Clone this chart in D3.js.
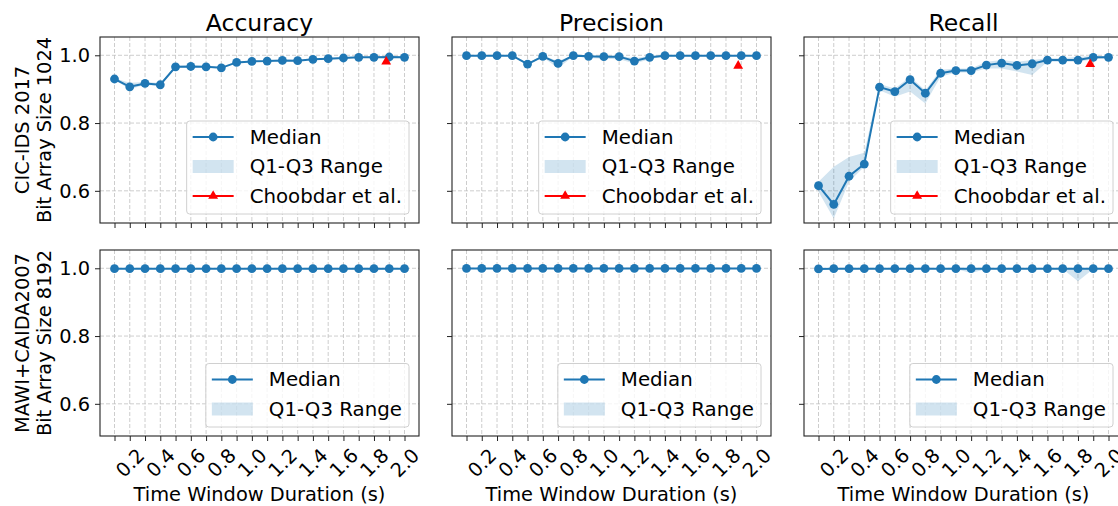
<!DOCTYPE html>
<html>
<head>
<meta charset="utf-8">
<script src="https://cdn.jsdelivr.net/npm/d3@7"></script>
<style>
  body { margin: 0; background: white; }
  svg { display: block; font-family: "DejaVu Sans", sans-serif; }
</style>
</head>
<body>
<div id="chart"></div>
<script>
// Data
const durations = [0.1, 0.2, 0.3, 0.4, 0.5, 0.6, 0.7, 0.8, 0.9, 1.0, 1.1, 1.2, 1.3, 1.4, 1.5, 1.6, 1.7, 1.8, 1.9, 2.0];
const metricTitles = ['Accuracy', 'Precision', 'Recall'];
const rowLabels = [['CIC-IDS 2017', 'Bit Array Size 1024'], ['MAWI+CAIDA2007', 'Bit Array Size 8192']];
const yTickValues = [0.6, 0.8, 1.0];

// CIC-IDS 2017, bit array 1024
const cicAccMedian = [0.930, 0.907, 0.917, 0.913, 0.966, 0.967, 0.966, 0.963, 0.979, 0.982, 0.983, 0.985, 0.984, 0.988, 0.990, 0.992, 0.994, 0.994, 0.995, 0.994];
const cicAccQ1 = [0.928, 0.900, 0.913, 0.909, 0.963, 0.964, 0.964, 0.960, 0.977, 0.980, 0.981, 0.983, 0.982, 0.987, 0.989, 0.991, 0.993, 0.993, 0.994, 0.993];
const cicAccQ3 = [0.932, 0.919, 0.921, 0.918, 0.968, 0.969, 0.968, 0.966, 0.981, 0.984, 0.985, 0.987, 0.986, 0.990, 0.992, 0.994, 0.996, 0.996, 0.996, 0.995];

const cicPrecMedian = [0.999, 0.999, 0.999, 0.999, 0.974, 0.997, 0.976, 0.999, 0.997, 0.996, 0.996, 0.983, 0.994, 0.999, 0.999, 0.999, 0.999, 0.999, 0.999, 0.999];
const cicPrecQ1 = [0.998, 0.998, 0.998, 0.998, 0.971, 0.994, 0.962, 0.997, 0.992, 0.990, 0.988, 0.976, 0.988, 0.997, 0.998, 0.998, 0.998, 0.998, 0.998, 0.998];
const cicPrecQ3 = [1.000, 1.000, 1.000, 1.000, 0.978, 0.999, 0.983, 1.000, 0.999, 0.999, 0.999, 0.991, 0.998, 1.000, 1.000, 1.000, 1.000, 1.000, 1.000, 1.000];

const cicRecMedian = [0.615, 0.560, 0.643, 0.679, 0.906, 0.893, 0.928, 0.888, 0.947, 0.955, 0.955, 0.971, 0.977, 0.970, 0.975, 0.986, 0.986, 0.986, 0.994, 0.994];
const cicRecQ1 = [0.597, 0.518, 0.627, 0.671, 0.897, 0.878, 0.893, 0.858, 0.937, 0.949, 0.949, 0.961, 0.961, 0.952, 0.942, 0.981, 0.981, 0.981, 0.988, 0.991];
const cicRecQ3 = [0.627, 0.671, 0.700, 0.712, 0.915, 0.902, 0.937, 0.897, 0.957, 0.961, 0.961, 0.981, 0.986, 0.981, 0.986, 0.991, 0.991, 0.996, 0.998, 0.998];

// MAWI+CAIDA2007, bit array 8192
const mawiAccMedian = [0.999, 0.999, 0.999, 0.999, 0.999, 0.999, 0.999, 0.999, 0.999, 0.999, 0.999, 0.999, 0.999, 0.999, 0.999, 0.999, 0.999, 0.999, 0.999, 0.999];
const mawiAccQ1 = [0.999, 0.999, 0.999, 0.999, 0.999, 0.999, 0.999, 0.999, 0.999, 0.999, 0.999, 0.999, 0.999, 0.999, 0.999, 0.998, 0.996, 0.993, 0.998, 0.998];
const mawiAccQ3 = [1.000, 1.000, 1.000, 1.000, 1.000, 1.000, 1.000, 1.000, 1.000, 1.000, 1.000, 1.000, 1.000, 1.000, 1.000, 1.000, 1.000, 1.000, 1.000, 1.000];

const mawiPrecMedian = [0.9995, 0.9995, 0.9995, 0.9995, 0.9995, 0.9995, 0.9995, 0.9995, 0.9995, 0.9995, 0.9995, 0.9995, 0.9995, 0.9995, 0.9995, 0.9995, 0.9995, 0.9995, 0.9995, 0.9995];
const mawiPrecQ1 = [0.999, 0.999, 0.999, 0.999, 0.999, 0.999, 0.999, 0.999, 0.999, 0.999, 0.999, 0.999, 0.999, 0.999, 0.999, 0.999, 0.999, 0.999, 0.999, 0.999];
const mawiPrecQ3 = [1.000, 1.000, 1.000, 1.000, 1.000, 1.000, 1.000, 1.000, 1.000, 1.000, 1.000, 1.000, 1.000, 1.000, 1.000, 1.000, 1.000, 1.000, 1.000, 1.000];

const mawiRecMedian = [0.998, 0.999, 0.999, 0.999, 0.999, 0.999, 0.999, 0.999, 0.999, 0.999, 0.999, 0.999, 0.999, 0.999, 0.999, 0.999, 0.999, 0.999, 0.999, 0.999];
const mawiRecQ1 = [0.997, 0.999, 0.999, 0.999, 0.999, 0.999, 0.999, 0.999, 0.999, 0.998, 0.986, 0.998, 0.999, 0.999, 0.999, 0.999, 0.998, 0.962, 0.998, 0.999];
const mawiRecQ3 = [1.000, 1.000, 1.000, 1.000, 1.000, 1.000, 1.000, 1.000, 1.000, 1.000, 1.000, 1.000, 1.000, 1.000, 1.000, 1.000, 1.000, 1.000, 1.000, 1.000];

// Choobdar et al. reference points (top row only)
const choobdarX = 1.88;
const choobdarValues = [0.981, 0.969, 0.974];

// Canvas & layout
const width = 1118,
      height = 506;
const panelW = 319,
      panelH = 186;
const colLeft = [100, 452, 804];
const rowTop = [37, 250];
const blue = '#1f77b4';

const svg = d3.select('#chart').append('svg')
    .attr('width', width)
    .attr('height', height);

const xScale = d3.scaleLinear().domain([0.005, 2.095]).range([0, panelW]);
const yScale = d3.scaleLinear().domain([0.505, 1.054]).range([panelH, 0]);

const panels = [
    [[cicAccMedian, cicAccQ1, cicAccQ3], [cicPrecMedian, cicPrecQ1, cicPrecQ3], [cicRecMedian, cicRecQ1, cicRecQ3]],
    [[mawiAccMedian, mawiAccQ1, mawiAccQ3], [mawiPrecMedian, mawiPrecQ1, mawiPrecQ3], [mawiRecMedian, mawiRecQ1, mawiRecQ3]]
];

const triangle = d3.symbol().type(d3.symbolTriangle).size(42);

function drawPanel(row, col) {
    const [median, q1, q3] = panels[row][col];
    const g = svg.append('g')
        .attr('transform', `translate(${colLeft[col]},${rowTop[row]})`);

    // grid
    g.append('g').selectAll('line').data(durations).enter().append('line')
        .attr('x1', d => xScale(d)).attr('x2', d => xScale(d))
        .attr('y1', 0).attr('y2', panelH)
        .attr('stroke', '#c0c0c0').attr('stroke-width', 0.8).attr('stroke-dasharray', '4,2');
    g.append('g').selectAll('line').data(yTickValues).enter().append('line')
        .attr('x1', 0).attr('x2', panelW)
        .attr('y1', d => yScale(d)).attr('y2', d => yScale(d))
        .attr('stroke', '#c0c0c0').attr('stroke-width', 0.8).attr('stroke-dasharray', '4,2');

    // Q1-Q3 band
    const area = d3.area()
        .x((d, i) => xScale(durations[i]))
        .y0((d, i) => yScale(q1[i]))
        .y1((d, i) => yScale(q3[i]));
    g.append('path').datum(median)
        .attr('d', area)
        .attr('fill', blue).attr('fill-opacity', 0.2);

    // median line + markers
    const line = d3.line()
        .x((d, i) => xScale(durations[i]))
        .y(d => yScale(d));
    g.append('path').datum(median)
        .attr('d', line)
        .attr('fill', 'none').attr('stroke', blue).attr('stroke-width', 2);
    g.append('g').selectAll('circle').data(median).enter().append('circle')
        .attr('cx', (d, i) => xScale(durations[i]))
        .attr('cy', d => yScale(d))
        .attr('r', 4.4)
        .attr('fill', blue);

    if (row === 0) {
        g.append('path')
            .attr('d', triangle)
            .attr('transform', `translate(${xScale(choobdarX)},${yScale(choobdarValues[col])})`)
            .attr('fill', 'red');
    }

    // axes
    const xAxis = d3.axisBottom(xScale)
        .tickValues(durations)
        .tickSize(5)
        .tickFormat((d, i) => (row === 1 && i % 2 === 1) ? d.toFixed(1) : '');
    const xg = g.append('g')
        .attr('transform', `translate(0,${panelH})`)
        .call(xAxis);
    xg.select('.domain').remove();
    xg.selectAll('line').attr('stroke', '#222').attr('stroke-width', 1);
    xg.selectAll('text')
        .attr('font-size', '19.4px')
        .attr('font-family', 'DejaVu Sans')
        .attr('fill', 'black')
        .attr('text-anchor', 'middle')
        .attr('dy', null)
        .attr('y', null)
        .attr('dominant-baseline', 'central')
        .attr('transform', 'translate(0,27) rotate(-45)');

    const yAxis = d3.axisLeft(yScale)
        .tickValues(yTickValues)
        .tickSize(5)
        .tickPadding(5)
        .tickFormat(d => col === 0 ? d.toFixed(1) : '');
    const yg = g.append('g').call(yAxis);
    yg.select('.domain').remove();
    yg.selectAll('line').attr('stroke', '#222').attr('stroke-width', 1);
    yg.selectAll('text')
        .attr('font-size', '19.4px')
        .attr('font-family', 'DejaVu Sans')
        .attr('fill', 'black');

    // frame
    g.append('rect')
        .attr('width', panelW).attr('height', panelH)
        .attr('fill', 'none').attr('stroke', '#222').attr('stroke-width', 1.1);

    // legend
    const items = [
        { label: 'Median', kind: 'median' },
        { label: 'Q1-Q3 Range', kind: 'band' }
    ];
    if (row === 0) items.push({ label: 'Choobdar et al.', kind: 'ref' });

    const rowGap = 29.5;
    const lg = g.append('g');
    const box = lg.append('rect');
    let maxW = 0;
    items.forEach((it, i) => {
        const t = lg.append('text')
            .attr('x', 63).attr('y', i * rowGap)
            .attr('dominant-baseline', 'central')
            .attr('font-size', '19.8px')
            .attr('fill', 'black')
            .text(it.label);
        maxW = Math.max(maxW, t.node().getComputedTextLength());
        if (it.kind === 'median') {
            lg.append('line').attr('x1', 6).attr('x2', 47).attr('y1', i * rowGap).attr('y2', i * rowGap)
                .attr('stroke', blue).attr('stroke-width', 2);
            lg.append('circle').attr('cx', 26.5).attr('cy', i * rowGap).attr('r', 4.4).attr('fill', blue);
        } else if (it.kind === 'band') {
            lg.append('rect').attr('x', 6).attr('y', i * rowGap - 6.5).attr('width', 41).attr('height', 13)
                .attr('fill', blue).attr('fill-opacity', 0.2);
        } else {
            lg.append('line').attr('x1', 6).attr('x2', 47).attr('y1', i * rowGap).attr('y2', i * rowGap)
                .attr('stroke', 'red').attr('stroke-width', 2);
            lg.append('path').attr('d', triangle)
                .attr('transform', `translate(26.5,${i * rowGap})`).attr('fill', 'red');
        }
    });
    const boxW = 63 + maxW + 7;
    const boxH = (items.length - 1) * rowGap + 34;
    box.attr('x', 0).attr('y', -16).attr('width', boxW).attr('height', boxH)
        .attr('rx', 3)
        .attr('fill', 'white').attr('fill-opacity', 0.8)
        .attr('stroke', '#d0d0d0').attr('stroke-width', 1);
    lg.attr('transform', `translate(${panelW - 10 - boxW},${panelH - 9 - boxH + 16})`);

    // titles
    if (row === 0) {
        svg.append('text')
            .attr('x', colLeft[col] + panelW / 2)
            .attr('y', 31)
            .attr('text-anchor', 'middle')
            .attr('font-size', '23.5px')
            .attr('fill', 'black')
            .text(metricTitles[col]);
    } else {
        svg.append('text')
            .attr('x', colLeft[col] + panelW / 2)
            .attr('y', 501)
            .attr('text-anchor', 'middle')
            .attr('font-size', '19.4px')
            .attr('fill', 'black')
            .text('Time Window Duration (s)');
    }
}

for (let r = 0; r < 2; r++) {
    for (let c = 0; c < 3; c++) drawPanel(r, c);
    const cy = rowTop[r] + panelH / 2;
    rowLabels[r].forEach((txt, k) => {
        svg.append('text')
            .attr('transform', `translate(${29 + k * 21.5},${cy}) rotate(-90)`)
            .attr('text-anchor', 'middle')
            .attr('font-size', '19.4px')
            .attr('fill', 'black')
            .text(txt);
    });
}
</script>
</body>
</html>
